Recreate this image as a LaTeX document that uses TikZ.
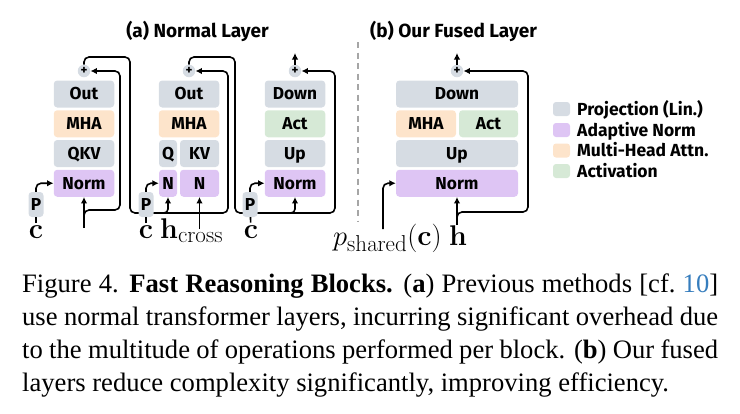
\RequirePackage{fix-cm}
\documentclass[tikz,border=0pt]{standalone}
\usepackage[no-math]{fontspec}
\newfontfamily\fira{Fira Sans}
\newfontfamily\timesf{Liberation Serif}
\usetikzlibrary{arrows.meta}
\DeclareMathSizes{28.5}{28.5}{23}{16}
\definecolor{projc}{RGB}{214,220,227}
\definecolor{normc}{RGB}{222,197,244}
\definecolor{mhac}{RGB}{253,228,203}
\definecolor{actc}{RGB}{214,233,214}
\definecolor{citeblue}{RGB}{54,125,189}
\pgfdeclarelayer{background}
\pgfsetlayers{background,main}
\begin{document}
\begin{tikzpicture}[x=1pt,y=-1pt,
 lw/.style={line width=1.6pt},
 arr/.style={lw,-{Latex[length=6.5pt,width=6.5pt]}},
 ln/.style={lw},
 blk/.style={rounded corners=3.5pt, inner sep=0pt, minimum height=27pt, text height=11.9pt, text depth=0pt, font=\fira\bfseries\fontsize{17.3}{17.3}\selectfont, align=center},
 proj/.style={blk, fill=projc},
 anorm/.style={blk, fill=normc},
 mha/.style={blk, fill=mhac},
 act/.style={blk, fill=actc},
 plusn/.style={circle, fill=projc, inner sep=0pt, minimum size=12.5pt, font=\fira\bfseries\fontsize{13}{13}\selectfont},
 pbox/.style={proj, minimum width=15pt, minimum height=25pt},
 mth/.style={inner sep=0pt, font=\fontsize{28.5}{30}\selectfont},
 ttl/.style={font=\fira\bfseries\fontsize{19}{19}\selectfont, inner sep=0pt},
 leg/.style={font=\fira\bfseries\fontsize{17.5}{17.5}\selectfont, inner sep=0pt, anchor=base west},
 sw/.style={rounded corners=3pt, minimum width=17pt, minimum height=14pt, inner sep=0pt}
]
\useasboundingbox (0,0) rectangle (740,413);

% titles
\node[ttl] (ta) at (197.5,31) {(a) Normal Layer};
\node[ttl] (tb) at (453.5,31) {(b) Our Fused Layer};

% ---------- block 1
\node[proj, minimum width=60.5pt] (out1) at (84,94) {Out};
\node[mha, minimum width=60.5pt] (mha1) at (84,123.75) {MHA};
\node[proj, minimum width=60.5pt] (qkv1) at (84,153.5) {QKV};
\node[anorm, minimum width=60.5pt] (norm1) at (84,183.25) {Norm};
\node[plusn] (plus1) at (84,71) {+};
\node[pbox] (p1) at (36,204.5) {P};
\node[mth, anchor=base] (c1) at (36,238.5) {$\mathbf{c}$};
\coordinate (in1) at (84,228);
\coordinate (br1) at (84,220);
\coordinate (r1) at (120,210);

% ---------- block 2
\node[proj, minimum width=60.5pt] (out2) at (189,94) {Out};
\node[mha, minimum width=60.5pt] (mha2) at (189,123.75) {MHA};
\node[proj, minimum width=18pt] (q2) at (168,153.5) {Q};
\node[proj, minimum width=39pt] (kv2) at (199.5,153.5) {KV};
\node[anorm, minimum width=18pt] (na2) at (168,183.25) {N};
\node[anorm, minimum width=39pt] (nb2) at (199.5,183.25) {N};
\node[plusn] (plus2) at (189,71) {+};
\node[pbox] (p2) at (146,204.5) {P};
\node[mth, anchor=base] (c2) at (146,238.5) {$\mathbf{c}$};
\node[mth, anchor=base west] (hc2) at (160,238.5) {$\mathbf{h}_{\mathrm{cross}}$};
\coordinate (hcin) at (199.5,229);
\coordinate (o1a) at (130,57);
\coordinate (o1b) at (228,213);
\coordinate (br2) at (158,213);

% ---------- block 3
\node[proj, minimum width=60.5pt] (down3) at (295,94) {Down};
\node[act, minimum width=60.5pt] (act3) at (295,123.75) {Act};
\node[proj, minimum width=60.5pt] (up3) at (295,153.5) {Up};
\node[anorm, minimum width=60.5pt] (norm3) at (295,183.25) {Norm};
\node[plusn] (plus3) at (295,71) {+};
\node[pbox] (p3) at (250,204.5) {P};
\node[mth, anchor=base] (c3) at (251,238.5) {$\mathbf{c}$};
\coordinate (o2a) at (235,57);
\coordinate (o2b) at (335,213);
\coordinate (br3) at (285,213);
\coordinate (o3) at (295,53);

% separator
\coordinate (s1) at (358,42);
\coordinate (s2) at (358,222);
\draw[lw, draw=gray!70, dash pattern=on 6pt off 4.5pt] (s1) -- (s2);

% ---------- block 4
\node[proj, minimum width=122pt] (down4) at (457,94) {Down};
\node[mha, minimum width=60pt] (mha4) at (426,123.75) {MHA};
\node[act, minimum width=59pt] (act4) at (488.5,123.75) {Act};
\node[proj, minimum width=122pt] (up4) at (457,153.5) {Up};
\node[anorm, minimum width=122pt] (norm4) at (457,183.25) {Norm};
\node[plusn] (plus4) at (457,71) {+};
\node[mth, anchor=base east] (pc4) at (442,245) {$p_{\mathrm{shared}}(\mathbf{c})$};
\node[mth, anchor=base] (h4) at (458,245) {$\mathbf{h}$};
\coordinate (ps) at (383,229);
\coordinate (br4) at (457,221);
\coordinate (r4) at (528,212);
\coordinate (o4) at (457,53);

% ---------- connectors
\begin{pgfonlayer}{background}
\draw[arr, rounded corners=5pt] (plus1.north) |- (o1a) |- (o1b) |- (plus2.east);
\draw[arr, rounded corners=5pt] (plus2.north) |- (o2a) |- (o2b) |- (plus3.east);
\end{pgfonlayer}
\draw[ln, shorten >=3pt] (p1) -- (c1);
\draw[ln, shorten >=3pt] (p2) -- (c2);
\draw[ln, shorten >=3pt] (p3) -- (c3);
\draw[arr, rounded corners=5pt] (p1.north) |- (norm1.west);
\draw[arr, rounded corners=5pt] (p2.north) |- (na2.west);
\draw[arr, rounded corners=5pt] (p3.north) |- (norm3.west);
\draw[arr] (in1) -- (norm1.south);
\draw[arr, rounded corners=5pt] (br1) |- (r1) |- (plus1.east);
\draw[arr, rounded corners=4pt] (br2) -| (na2.south);
\draw[arr] (hcin) -- (nb2.south);
\draw[arr, rounded corners=4pt] (br3) -| (norm3.south);
\draw[arr] (plus3.north) -- (o3);
\draw[arr, rounded corners=5pt] (ps) |- (norm4.west);
\draw[arr] (h4.north -| norm4.south) -- (norm4.south);
\draw[arr, rounded corners=5pt] (br4) |- (r4) |- (plus4.east);
\draw[arr] (plus4.north) -- (o4);

% ---------- legend
\node[sw, fill=projc] (sw1) at (561.5,109) {};
\node[sw, fill=normc] (sw2) at (561.5,130) {};
\node[sw, fill=mhac] (sw3) at (561.5,150.5) {};
\node[sw, fill=actc] (sw4) at (561.5,171) {};
\node[leg] (l1) at (577,115) {Projection (Lin.)};
\node[leg] (l2) at (577,136) {Adaptive Norm};
\node[leg] (l3) at (577,156.5) {Multi-Head Attn.};
\node[leg] (l4) at (577,177) {Activation};

% ---------- caption
\node[anchor=base west, inner sep=0pt, text width=696pt, align=justify, font=\timesf\fontsize{26.6}{33}\selectfont] (cap) at (22,292) {Figure 4. \textbf{Fast Reasoning Blocks.} (\textbf{a}) Previous methods [cf.~\textcolor{citeblue}{10}]\linebreak use normal transformer layers, incurring significant overhead due\linebreak to the multitude of operations performed per block. (\textbf{b}) Our fused\linebreak layers reduce complexity significantly, improving efficiency.};
\end{tikzpicture}
\end{document}
